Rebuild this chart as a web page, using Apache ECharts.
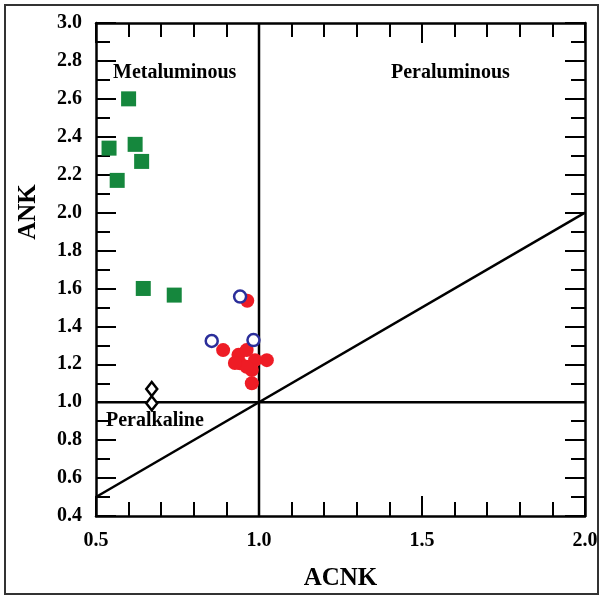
<!DOCTYPE html>
<html>
<head>
<meta charset="utf-8">
<script src="https://cdn.jsdelivr.net/npm/echarts@6/dist/echarts.min.js"></script>
<style>
  html, body { margin: 0; padding: 0; background: #fff; }
  #chart { width: 603px; height: 599px; }
</style>
</head>
<body>
<div id="chart"></div>
<script>
// ACNK vs ANK discrimination diagram (Shand index)
const xTicks = [0.5, 1.0, 1.5, 2.0];
const yTicks = [0.4, 0.6, 0.8, 1.0, 1.2, 1.4, 1.6, 1.8, 2.0, 2.2, 2.4, 2.6, 2.8, 3.0];

// Group A (green squares)
const groupA_acnk = [0.60, 0.54, 0.62, 0.64, 0.565, 0.645, 0.74];
const groupA_ank  = [2.60, 2.34, 2.36, 2.27, 2.17, 1.60, 1.565];

// Group B (red filled circles)
const groupB_acnk = [0.964, 0.89, 0.937, 0.962, 0.942, 0.988, 1.024, 0.978, 0.978, 0.962, 0.926];
const groupB_ank  = [1.535, 1.275, 1.25, 1.275, 1.205, 1.222, 1.222, 1.17, 1.10, 1.187, 1.207];

// Group C (blue open circles)
const groupC_acnk = [0.942, 0.855, 0.983];
const groupC_ank  = [1.557, 1.323, 1.328];

// Group D (open diamonds)
const groupD_acnk = [0.671, 0.671];
const groupD_ank  = [1.07, 0.995];

// Field boundaries
const boundaryVertical   = [[1.0, 0.4], [1.0, 3.0]];
const boundaryHorizontal = [[0.5, 1.0], [2.0, 1.0]];
const boundaryDiagonal   = [[0.5, 0.5], [2.0, 2.0]];

const pairs = (xs, ys) => xs.map((x, i) => [x, ys[i]]);

const serif = 'Liberation Serif';

function xAxisCfg(pos, labels) {
  return {
    type: 'value', position: pos, min: 0.5, max: 2.0, interval: 0.5,
    axisLine: { show: true, onZero: false, lineStyle: { color: '#000', width: 2.5 } },
    axisTick: { show: true, inside: true, length: 20, lineStyle: { color: '#000', width: 2 } },
    minorTick: { show: true, splitNumber: 5, length: 14, lineStyle: { color: '#000', width: 2 } },
    splitLine: { show: false },
    axisLabel: {
      show: labels, margin: 15, formatter: v => v.toFixed(1),
      fontFamily: serif, fontWeight: 'bold', fontSize: 20, color: '#000'
    },
    name: labels ? 'ACNK' : '',
    nameLocation: 'middle',
    nameGap: 50,
    nameTextStyle: { fontFamily: serif, fontWeight: 'bold', fontSize: 25, color: '#000' }
  };
}
function yAxisCfg(pos, labels) {
  return {
    type: 'value', position: pos, min: 0.4, max: 3.0, interval: 0.2,
    axisLine: { show: true, onZero: false, lineStyle: { color: '#000', width: 2.5 } },
    axisTick: { show: true, inside: true, length: 20, lineStyle: { color: '#000', width: 2 } },
    minorTick: { show: true, splitNumber: 2, length: 14, lineStyle: { color: '#000', width: 2 } },
    splitLine: { show: false },
    axisLabel: {
      show: labels, margin: 14, formatter: v => v.toFixed(1),
      fontFamily: serif, fontWeight: 'bold', fontSize: 20, color: '#000'
    }
  };
}

function boundary(data) {
  return {
    type: 'line', data: data, symbol: 'none', silent: true, z: 1,
    lineStyle: { color: '#000', width: 2.5 }
  };
}

const chart = echarts.init(document.getElementById('chart'), null, { renderer: 'canvas' });
chart.setOption({
  animation: false,
  backgroundColor: '#fff',
  grid: { left: 96, top: 23, width: 489, height: 493 },
  xAxis: [xAxisCfg('bottom', true), xAxisCfg('top', false)],
  yAxis: [yAxisCfg('left', true), yAxisCfg('right', false)],
  graphic: [
    { type: 'rect', shape: { x: 5, y: 5, width: 593, height: 589 },
      style: { fill: 'none', stroke: '#333', lineWidth: 2 }, silent: true },
    { type: 'text', left: 113, top: 63,
      style: { text: 'Metaluminous', fontFamily: serif, fontWeight: 'bold', fontSize: 20, fill: '#000' } },
    { type: 'text', left: 391, top: 63,
      style: { text: 'Peraluminous', fontFamily: serif, fontWeight: 'bold', fontSize: 20, fill: '#000' } },
    { type: 'text', left: 106, top: 411,
      style: { text: 'Peralkaline', fontFamily: serif, fontWeight: 'bold', fontSize: 20, fill: '#000' } },
    { type: 'text', x: 16, y: 212, rotation: Math.PI / 2,
      style: { text: 'ANK', fontFamily: serif, fontWeight: 'bold', fontSize: 25, fill: '#000',
               align: 'center', verticalAlign: 'top' } }
  ],
  series: [
    boundary(boundaryVertical),
    boundary(boundaryHorizontal),
    boundary(boundaryDiagonal),
    {
      type: 'scatter', data: pairs(groupA_acnk, groupA_ank), symbol: 'rect', symbolSize: 15, z: 3,
      itemStyle: { color: '#15873d', opacity: 1 }
    },
    {
      type: 'scatter', data: pairs(groupB_acnk, groupB_ank), symbol: 'circle', symbolSize: 14, z: 3,
      itemStyle: { color: '#ee1c25', opacity: 1 }
    },
    {
      type: 'scatter', data: pairs(groupC_acnk, groupC_ank), symbol: 'circle', symbolSize: 12, z: 4,
      itemStyle: { color: '#fff', borderColor: '#2b2e9a', borderWidth: 2.5, opacity: 1 }
    },
    {
      type: 'scatter', data: pairs(groupD_acnk, groupD_ank), symbol: 'diamond', symbolSize: [11, 14], z: 4,
      itemStyle: { color: '#fff', borderColor: '#000', borderWidth: 2.5, opacity: 1 }
    }
  ]
});
</script>
</body>
</html>
